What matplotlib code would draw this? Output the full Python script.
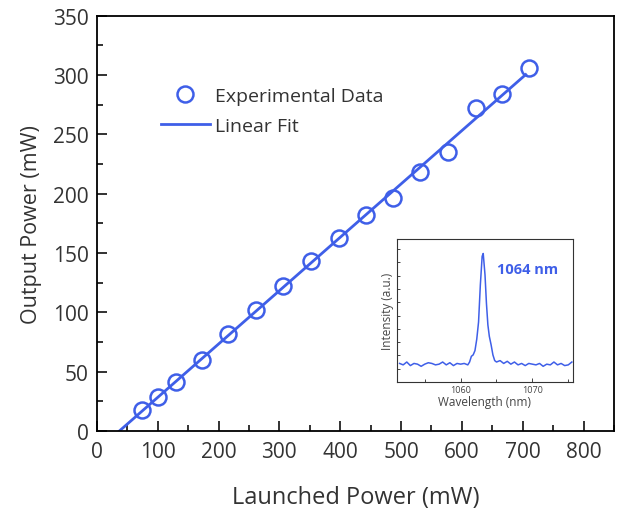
import numpy as np
import matplotlib
matplotlib.use("Agg")
import matplotlib.pyplot as plt
from matplotlib.ticker import MultipleLocator

plt.rcParams['font.family'] = ['Open Sans', 'DejaVu Sans']

# Main data
launched = [74, 100, 130, 173, 215, 261, 306, 352, 398, 442, 487, 531, 577, 623, 666, 710]
output = [17.7, 28.7, 41, 60, 82, 102, 122, 143, 163, 182, 196, 218, 235, 272, 284, 306]

# Inset spectrum
wavelength = [1051.5, 1052.0, 1052.5, 1053.0, 1053.5, 1054.0, 1054.5, 1055.0, 1055.5, 1056.0,
              1056.5, 1057.0, 1057.5, 1058.0, 1058.5, 1059.0, 1059.5, 1060.0, 1060.5, 1061.0,
              1061.25, 1061.5, 1061.75, 1062.0, 1062.25, 1062.5, 1062.75, 1063.0, 1063.15, 1063.4,
              1063.6, 1063.8, 1064.0, 1064.25, 1064.5, 1064.75, 1065.0, 1065.5, 1066.0, 1066.5,
              1067.0, 1067.5, 1068.0, 1068.5, 1069.0, 1069.5, 1070.0, 1070.5, 1071.0, 1071.5,
              1072.0, 1072.5, 1073.0, 1073.5, 1074.0, 1074.5, 1075.0, 1075.5]
intensity = [0.13, 0.12, 0.14, 0.115, 0.13, 0.125, 0.11, 0.125, 0.135, 0.13,
             0.12, 0.125, 0.14, 0.12, 0.135, 0.115, 0.13, 0.125, 0.13, 0.12,
             0.14, 0.18, 0.19, 0.22, 0.30, 0.42, 0.68, 0.88, 0.90, 0.75,
             0.55, 0.40, 0.32, 0.26, 0.19, 0.15, 0.14, 0.15, 0.13, 0.145,
             0.125, 0.14, 0.12, 0.13, 0.115, 0.13, 0.125, 0.12, 0.13, 0.11,
             0.125, 0.12, 0.14, 0.12, 0.13, 0.115, 0.12, 0.14]

blue = '#3f5fe8'
txt = '#333333'

fig = plt.figure(figsize=(6.17, 5.10), dpi=100)
ax = fig.add_axes([0.157, 0.153, 0.838, 0.814])

# Linear fit
coef = np.polyfit(launched, output, 1)
x0 = -coef[1] / coef[0]
xfit = np.array([x0, 705])
ax.plot(xfit, np.polyval(coef, xfit), color=blue, lw=2.0, label='Linear Fit', zorder=2)
ax.plot(launched, output, 'o', ms=11.5, mfc='none', mec=blue, mew=1.8,
        label='Experimental Data', zorder=3)

ax.set_xlim(0, 850)
ax.set_ylim(0, 350)
ax.xaxis.set_major_locator(MultipleLocator(100))
ax.xaxis.set_minor_locator(MultipleLocator(50))
ax.yaxis.set_major_locator(MultipleLocator(50))
ax.yaxis.set_minor_locator(MultipleLocator(25))
ax.tick_params(which='both', direction='in', top=False, right=False, width=1.3, labelsize=15, colors='#222222')
ax.tick_params(which='both', labelcolor=txt)
ax.tick_params(which='major', length=7)
ax.tick_params(which='minor', length=4)
ax.tick_params(axis='x', which='both', pad=7)
ax.tick_params(axis='y', which='both', pad=6)
for s in ax.spines.values():
    s.set_linewidth(1.3)
ax.set_xlabel('Launched Power (mW)', fontsize=17, color=txt, labelpad=17)
ax.set_ylabel('Output Power (mW)', fontsize=15.5, color=txt, labelpad=8)

h, l = ax.get_legend_handles_labels()
ax.legend([h[1], h[0]], [l[1], l[0]], loc='upper left', bbox_to_anchor=(0.09, 0.87),
          frameon=False, fontsize=14, handlelength=2.5, handletextpad=0.3, labelspacing=0.6,
          labelcolor=txt)

# Inset
ins = fig.add_axes([0.643, 0.249, 0.285, 0.280])
ins.plot(wavelength, intensity, color=blue, lw=1.1)
ins.set_xlim(1051.1, 1075.6)
ins.set_ylim(0, 1)
ins.xaxis.set_major_locator(MultipleLocator(10))
ins.xaxis.set_minor_locator(MultipleLocator(5))
ins.yaxis.set_major_locator(MultipleLocator(0.093))
ins.set_yticklabels([])
ins.tick_params(which='both', direction='in', top=False, right=False, width=0.7, labelsize=6.5, colors='#444444', pad=2)
ins.tick_params(which='major', length=3)
ins.tick_params(which='minor', length=2)
ins.tick_params(axis='y', length=2)
for s in ins.spines.values():
    s.set_linewidth(0.8)
    s.set_color('#333333')
ins.set_xlabel('Wavelength (nm)', fontsize=8.5, color='#444444', labelpad=1)
ins.set_ylabel('Intensity (a.u.)', fontsize=8.5, color='#444444', labelpad=0)
ins.text(0.57, 0.76, '1064 nm', transform=ins.transAxes, color=blue, fontsize=10.5, fontweight='bold')

fig.savefig('out.png', dpi=100)
